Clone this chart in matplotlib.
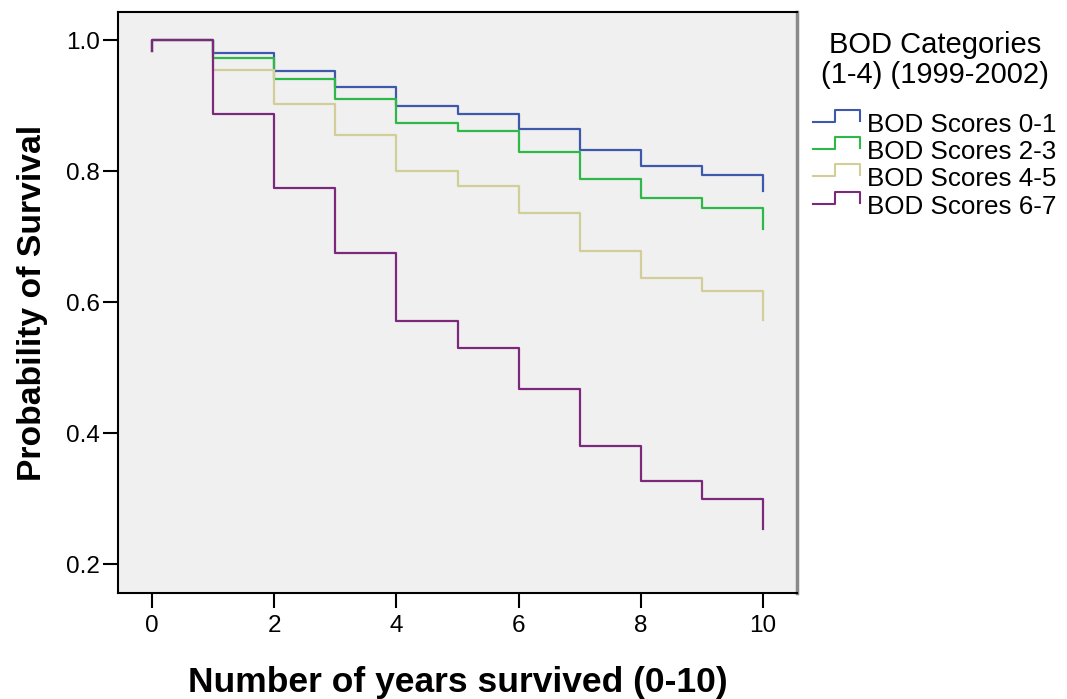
import numpy as np
import matplotlib
matplotlib.use("Agg")
import matplotlib.pyplot as plt

plt.rcParams['font.family'] = ['Liberation Sans', 'DejaVu Sans']

# years (0-10) and survival probability after each year
years = [0, 1, 2, 3, 4, 5, 6, 7, 8, 9, 10]
start_tick = 0.983  # small drop drawn at time 0

series_names = ['BOD Scores 0-1', 'BOD Scores 2-3', 'BOD Scores 4-5', 'BOD Scores 6-7']
surv_01 = [1.0, 0.980, 0.953, 0.929, 0.900, 0.888, 0.865, 0.833, 0.808, 0.794, 0.769]
surv_23 = [1.0, 0.973, 0.940, 0.910, 0.873, 0.861, 0.830, 0.788, 0.759, 0.744, 0.711]
surv_45 = [1.0, 0.955, 0.902, 0.855, 0.800, 0.777, 0.736, 0.678, 0.637, 0.617, 0.573]
surv_67 = [1.0, 0.888, 0.774, 0.675, 0.571, 0.530, 0.467, 0.381, 0.327, 0.300, 0.253]
colores = ['#3E58AC', '#2EB848', '#D3CE97', '#7C287D']

legend_title = 'BOD Categories\n(1-4) (1999-2002)'
x_ticks = [0, 2, 4, 6, 8, 10]
y_ticks = [0.2, 0.4, 0.6, 0.8, 1.0]

W, H = 1067, 699
fig = plt.figure(figsize=(W / 100, H / 100), dpi=100)
ax = fig.add_axes([118 / W, 1 - 593 / H, (797 - 118) / W, (593 - 12) / H])
ax.set_facecolor('#F0F0F0')

todas = [surv_01, surv_23, surv_45, surv_67]
for surv, c in zip(todas, colores):
    x = [years[0]] + years
    y = [start_tick] + surv
    ax.plot(x, y, drawstyle='steps-post', color=c, lw=1.6)

ax.set_xlim(-0.556, 10.556)
ax.set_ylim(0.156, 1.043)
ax.set_xticks(x_ticks)
ax.set_yticks(y_ticks)
ax.set_yticklabels(['%.1f' % v for v in y_ticks])
ax.tick_params(axis='both', direction='out', length=11, width=1.5, labelsize=17.5)
ax.tick_params(axis='x', pad=5)
ax.tick_params(axis='y', pad=2)

for s in ['top', 'left', 'bottom']:
    ax.spines[s].set_linewidth(1.5)
    ax.spines[s].set_color('black')
ax.spines['right'].set_linewidth(2.5)
ax.spines['right'].set_color('#8A8A8A')

ax.set_xlabel('Number of years survived (0-10)', fontsize=25.5, fontweight='bold', labelpad=21)
ax.set_ylabel('Probability of Survival', fontsize=24.2, fontweight='bold', labelpad=13)

# legend drawn by hand (step-shaped handles like SPSS)
lax = fig.add_axes([0, 0, 1, 1])
lax.set_xlim(0, W)
lax.set_ylim(H, 0)
lax.axis('off')
lines_title = legend_title.split('\n')
lax.text(935, 53, lines_title[0], fontsize=21, ha='center', va='baseline')
lax.text(935, 83, lines_title[1], fontsize=21, ha='center', va='baseline')
for i, (nombre, c) in enumerate(zip(series_names, colores)):
    base = 132 + i * 27.2
    hx = [813, 835, 835, 860, 860]
    hy = [base - 10, base - 10, base - 22, base - 22, base - 11]
    lax.plot(hx, hy, color=c, lw=1.5)
    lax.text(867, base, nombre, fontsize=18.7, ha='left', va='baseline')

fig.savefig('out.png', dpi=100)
